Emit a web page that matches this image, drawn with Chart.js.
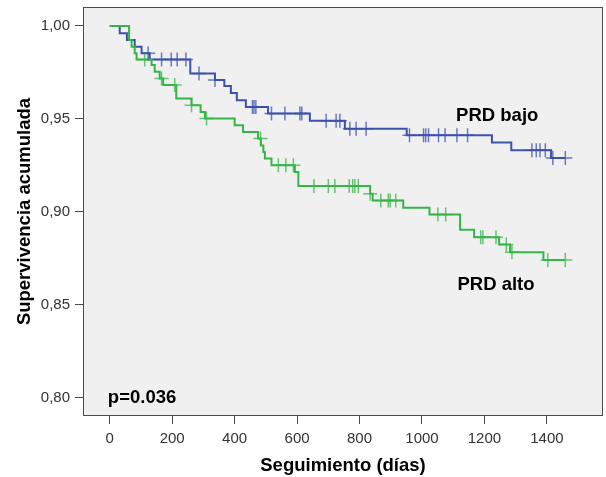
<!DOCTYPE html>
<html>
<head>
<meta charset="utf-8">
<script src="https://cdn.jsdelivr.net/npm/chart.js@4.4.1/dist/chart.umd.min.js"></script>
<style>
  html, body { margin: 0; padding: 0; background: #ffffff; }
  canvas { display: block; }
</style>
</head>
<body>
<canvas id="c" width="606" height="477"></canvas>
<script>
// ---- Data ----
const xTicks = [0, 200, 400, 600, 800, 1000, 1200, 1400];
const yTicks = [0.80, 0.85, 0.90, 0.95, 1.00];
const yTickLabels = ['0,80', '0,85', '0,90', '0,95', '1,00'];

// PRD bajo (blue): event times and survival after each event
const bajoTimes = [0, 32, 55, 80, 102, 128, 258, 337, 367, 388, 407, 436, 507, 641, 753, 951, 1224, 1286, 1413, 1459];
const bajoSurv  = [1, 0.9961, 0.9925, 0.9888, 0.9853, 0.9820, 0.9745, 0.9709, 0.9677, 0.9640, 0.9601, 0.9565, 0.9529, 0.9490, 0.9448, 0.9412, 0.9373, 0.9332, 0.9290, 0.9290];
const bajoCensored = [123, 166, 197, 216, 244, 286, 337, 457, 462, 468, 518, 561, 609, 615, 693, 725, 737, 769, 789, 821, 960, 1005, 1012, 1021, 1053, 1074, 1112, 1146, 1352, 1366, 1378, 1395, 1419, 1459];

// PRD alto (green)
const altoTimes = [0, 62, 70, 80, 86, 134, 144, 160, 171, 213, 262, 291, 305, 400, 427, 475, 484, 492, 497, 518, 593, 604, 834, 842, 940, 1024, 1122, 1167, 1247, 1282, 1389, 1459];
const altoSurv  = [1, 0.9925, 0.9888, 0.9853, 0.9820, 0.9790, 0.9754, 0.9718, 0.9682, 0.9610, 0.9574, 0.9538, 0.9502, 0.9466, 0.9430, 0.9395, 0.9358, 0.9322, 0.9287, 0.9251, 0.9215, 0.9140, 0.9098, 0.9062, 0.9023, 0.8987, 0.8904, 0.8864, 0.8825, 0.8783, 0.8742, 0.8742];
const altoCensored = [112, 166, 208, 262, 310, 483, 540, 564, 588, 654, 700, 721, 767, 778, 785, 796, 834, 868, 892, 898, 916, 1051, 1076, 1188, 1195, 1237, 1270, 1288, 1403, 1459];

const seriesNames = ['PRD bajo', 'PRD alto'];
const pValueText = 'p=0.036';

// ---- Helpers ----
function stepPoints(times, surv) {
  return times.map((t, i) => ({ x: t, y: surv[i] }));
}
function survAt(times, surv, t) {
  let s = surv[0];
  for (let i = 0; i < times.length; i++) { if (times[i] <= t) s = surv[i]; }
  return s;
}
function censorPoints(cens, times, surv) {
  return cens.map(t => ({ x: t, y: survAt(times, surv, t) }));
}

const BLUE = '#3d52aa';
const GREEN = '#35b548';
const FONT = "'Liberation Sans', Arial, Helvetica, sans-serif";

const framePlugin = {
  id: 'frame',
  beforeDraw(chart) {
    const { ctx, chartArea: a } = chart;
    ctx.save();
    ctx.fillStyle = '#ffffff';
    ctx.fillRect(0, 0, chart.width, chart.height);
    ctx.fillStyle = '#f0f0f0';
    ctx.fillRect(a.left, a.top, a.right - a.left, a.bottom - a.top);
    ctx.restore();
  },
  afterDraw(chart) {
    const { ctx, chartArea: a, scales } = chart;
    ctx.save();
    ctx.strokeStyle = '#4a4a4a';
    ctx.lineWidth = 1;
    ctx.strokeRect(Math.round(a.left) + 0.5, Math.round(a.top) + 0.5,
                   Math.round(a.right - a.left) - 1, Math.round(a.bottom - a.top) - 1);
    // annotations placed in data coordinates
    ctx.fillStyle = '#000000';
    ctx.font = "bold 18.5px " + FONT;
    ctx.textBaseline = 'middle';
    ctx.textAlign = 'center';
    ctx.fillText(seriesNames[0], scales.x.getPixelForValue(1241), scales.y.getPixelForValue(0.9515));
    ctx.fillText(seriesNames[1], scales.x.getPixelForValue(1237), scales.y.getPixelForValue(0.8609));
    ctx.textAlign = 'left';
    ctx.fillText(pValueText, scales.x.getPixelForValue(-6), scales.y.getPixelForValue(0.8));
    ctx.restore();
  }
};

new Chart(document.getElementById('c'), {
  type: 'line',
  data: {
    datasets: [
      { label: seriesNames[0], data: stepPoints(bajoTimes, bajoSurv), stepped: true,
        borderColor: BLUE, borderWidth: 2, pointRadius: 0, fill: false, order: 2 },
      { label: seriesNames[1], data: stepPoints(altoTimes, altoSurv), stepped: true,
        borderColor: GREEN, borderWidth: 2, pointRadius: 0, fill: false, order: 1 },
      { label: 'c1', data: censorPoints(bajoCensored, bajoTimes, bajoSurv), showLine: false,
        pointStyle: 'cross', pointRadius: 7, pointBorderWidth: 1.5,
        pointBorderColor: 'rgba(61,82,170,0.75)', borderColor: BLUE, order: 0 },
      { label: 'c2', data: censorPoints(altoCensored, altoTimes, altoSurv), showLine: false,
        pointStyle: 'cross', pointRadius: 7, pointBorderWidth: 1.5,
        pointBorderColor: 'rgba(53,181,72,0.75)', borderColor: GREEN, order: 0 }
    ]
  },
  options: {
    responsive: false,
    animation: false,
    events: [],
    layout: { autoPadding: false, padding: { top: 7, right: 3, left: 0, bottom: 0 } },
    plugins: { legend: { display: false }, tooltip: { enabled: false }, title: { display: false } },
    scales: {
      x: {
        type: 'linear', min: -85.6, max: 1579.7,
        afterBuildTicks: s => { s.ticks = xTicks.map(v => ({ value: v })); },
        afterFit: s => { s.height = 61; s.paddingLeft = 0; s.paddingRight = 0; },
        grid: { drawOnChartArea: false, drawTicks: true, tickLength: 8, color: '#4a4a4a', lineWidth: 1 },
        border: { display: false },
        ticks: { color: '#333333', font: { family: FONT, size: 15 }, padding: 6, maxRotation: 0, autoSkip: false,
                 callback: v => String(v) },
        title: { display: true, text: 'Seguimiento (días)', color: '#000000',
                 font: { family: FONT, size: 18.5, weight: 'bold' }, padding: { top: 0, bottom: 0 } }
      },
      y: {
        type: 'linear', min: 0.7903, max: 1.0102,
        afterBuildTicks: s => { s.ticks = yTicks.map(v => ({ value: v })); },
        afterFit: s => { s.width = 83; s.paddingTop = 0; s.paddingBottom = 0; },
        grid: { drawOnChartArea: false, drawTicks: true, tickLength: 8, color: '#4a4a4a', lineWidth: 1 },
        border: { display: false },
        ticks: { color: '#333333', font: { family: FONT, size: 15 }, padding: 5, autoSkip: false,
                 callback: (v) => { const i = yTicks.findIndex(t => Math.abs(t - v) < 1e-9); return i >= 0 ? yTickLabels[i] : ''; } },
        title: { display: true, text: 'Supervivencia acumulada', color: '#000000',
                 font: { family: FONT, size: 18.5, weight: 'bold' }, padding: { top: 14, bottom: 0 } }
      }
    }
  },
  plugins: [framePlugin]
});
</script>
</body>
</html>
